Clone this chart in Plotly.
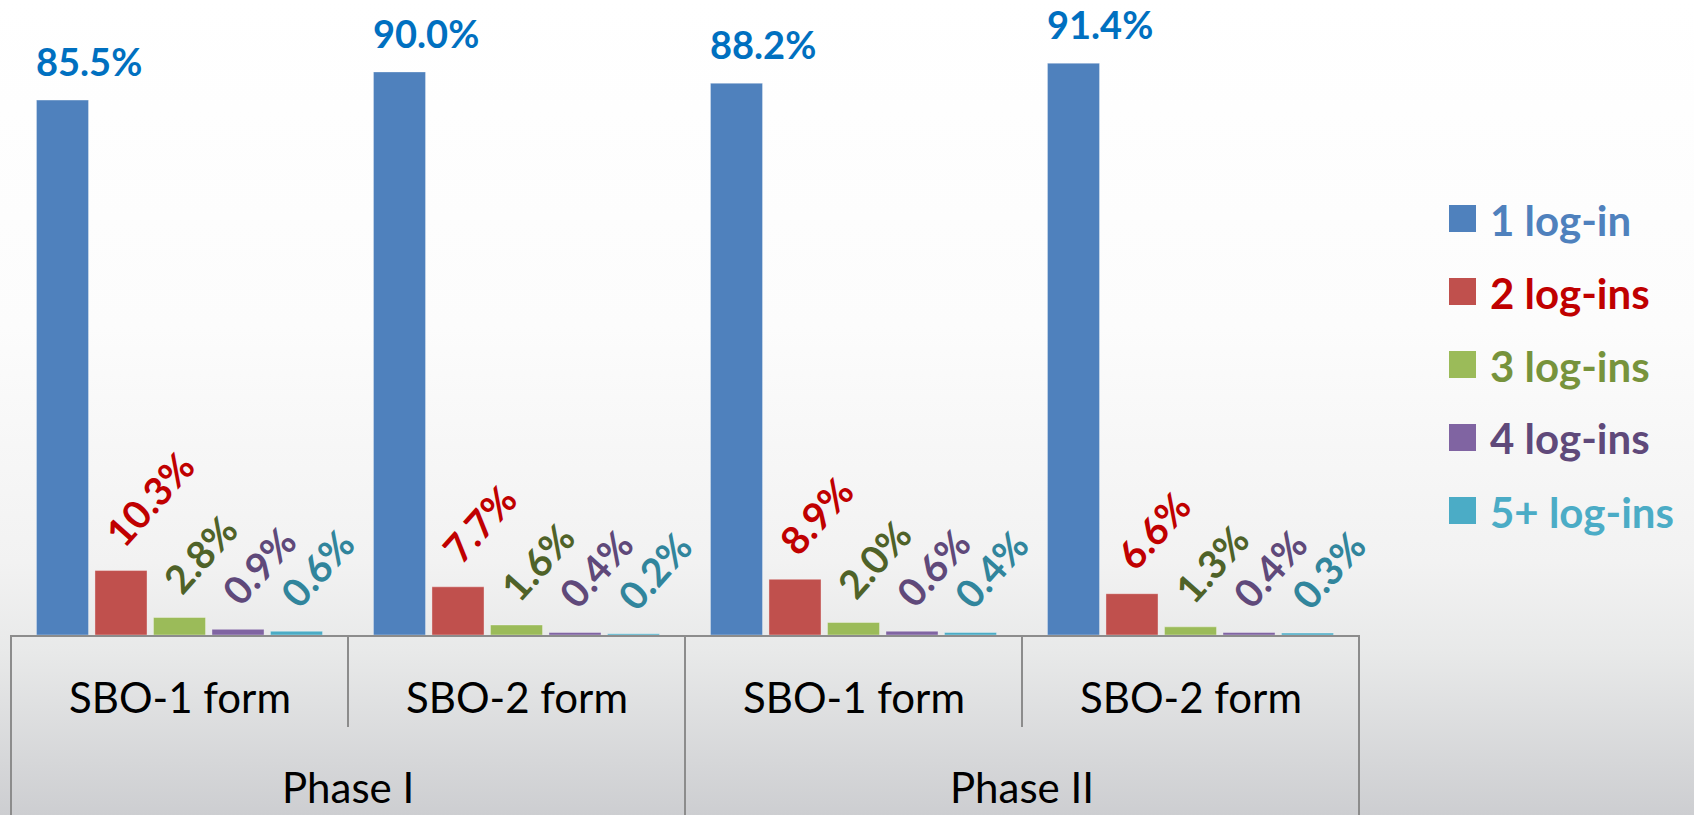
import base64
import plotly.graph_objects as go

# ---------------- data ----------------
phases = ["Phase I", "Phase I", "Phase II", "Phase II"]
forms = ["SBO-1 form", "SBO-2 form", "SBO-1 form", "SBO-2 form"]
phase_names = ["Phase I", "Phase II"]
series_names = ["1 log-in", "2 log-ins", "3 log-ins", "4 log-ins", "5+ log-ins"]
login_1 = [85.5, 90.0, 88.2, 91.4]
login_2 = [10.3, 7.7, 8.9, 6.6]
login_3 = [2.8, 1.6, 2.0, 1.3]
login_4 = [0.9, 0.4, 0.6, 0.4]
login_5 = [0.6, 0.2, 0.4, 0.3]
series_values = [login_1, login_2, login_3, login_4, login_5]

# ---------------- style ----------------
bar_colors = ["#4F81BD", "#C0504D", "#9BBB59", "#8064A2", "#4BACC6"]
label_colors = ["#0070C0", "#C00000", "#4F6228", "#5F497A", "#31859C"]
legend_text_colors = ["#4F81BD", "#C00000", "#77933C", "#5F497A", "#4BACC6"]
FONT = "Lato"
W, H = 1694, 815
L, R, T, B = 11, 335, 0, 180
BARGAP = 0.132
BARGROUPGAP = 0.11
LINE = "#8c8c8c"


def px_x(px):
    return (px - L) / (W - L - R)


def px_y(py):
    return (H - B - py) / (H - T - B)


n_series = len(series_values)
slot = (1 - BARGAP) / n_series


def bar_offset(j):
    return -(1 - BARGAP) / 2 + (j + 0.5) * slot


fig = go.Figure()
for j, (name, vals) in enumerate(zip(series_names, series_values)):
    fig.add_trace(go.Bar(
        x=[phases, forms], y=vals, name=name,
        marker=dict(color=bar_colors[j], line=dict(width=1, color="rgba(255,255,255,0.35)")),
        showlegend=False, hoverinfo="y+name",
    ))

annotations = []
# value labels
for j, vals in enumerate(series_values):
    for i, v in enumerate(vals):
        xc = i + bar_offset(j)
        if j == 0:
            annotations.append(dict(
                x=xc, y=v, xref="x", yref="y", text=f"{v:.1f}%", showarrow=False,
                xanchor="center", yanchor="bottom", xshift=27, yshift=14,
                font=dict(family=FONT, size=38, color=label_colors[j], weight="bold"),
            ))
        else:
            annotations.append(dict(
                x=xc, y=v, xref="x", yref="y", text=f"{v:.1f}%", showarrow=False,
                textangle=-48, xanchor="left", yanchor="bottom", xshift=-28, yshift=13,
                font=dict(family=FONT, size=39, color=label_colors[j], weight="bold"),
            ))

# category labels
for i, f in enumerate(forms):
    annotations.append(dict(
        x=i, y=px_y(697), xref="x", yref="paper", text=f, showarrow=False,
        xanchor="center", yanchor="middle",
        font=dict(family=FONT, size=42, color="#000000"),
    ))
for k, p in enumerate(phase_names):
    annotations.append(dict(
        x=2 * k + 0.5, y=px_y(787), xref="x", yref="paper", text=p, showarrow=False,
        xanchor="center", yanchor="middle",
        font=dict(family=FONT, size=42, color="#000000"),
    ))

shapes = []
# category box lines
bottom = px_y(H)
for xp in [0.0, 0.5, 1.0]:
    shapes.append(dict(type="line", xref="paper", yref="paper", x0=xp, x1=xp, y0=0, y1=bottom,
                       line=dict(color=LINE, width=2)))
for xp in [0.25, 0.75]:
    shapes.append(dict(type="line", xref="paper", yref="paper", x0=xp, x1=xp, y0=0, y1=px_y(727),
                       line=dict(color=LINE, width=2)))

# manual legend
for k, name in enumerate(series_names):
    cy = 218.5 + 73 * k
    shapes.append(dict(type="rect", xref="paper", yref="paper",
                       x0=px_x(1449), x1=px_x(1476), y0=px_y(cy + 13.5), y1=px_y(cy - 13.5),
                       fillcolor=bar_colors[k], line=dict(width=0)))
    annotations.append(dict(
        x=px_x(1488), y=px_y(cy + 1), xref="paper", yref="paper", text=name, showarrow=False,
        xanchor="left", yanchor="middle",
        font=dict(family=FONT, size=42, color=legend_text_colors[k], weight="bold"),
    ))

# background gradient
svg = (
    f'<svg xmlns="http://www.w3.org/2000/svg" width="{W}" height="{H}" preserveAspectRatio="none">'
    '<defs><linearGradient id="g" x1="0" y1="0" x2="0" y2="1">'
    '<stop offset="0" stop-color="#ffffff"/>'
    '<stop offset="0.40" stop-color="#fcfcfc"/>'
    '<stop offset="0.69" stop-color="#f2f2f2"/>'
    '<stop offset="0.80" stop-color="#e8e9e9"/>'
    '<stop offset="1" stop-color="#cdced1"/>'
    '</linearGradient></defs>'
    f'<rect x="0" y="0" width="{W}" height="{H}" fill="url(#g)"/></svg>'
)
bg_src = "data:image/svg+xml;base64," + base64.b64encode(svg.encode()).decode()

fig.update_layout(
    width=W, height=H,
    margin=dict(l=L, r=R, t=T, b=B, pad=0),
    barmode="group", bargap=BARGAP, bargroupgap=BARGROUPGAP,
    paper_bgcolor="#ffffff", plot_bgcolor="rgba(0,0,0,0)",
    showlegend=False,
    font=dict(family=FONT),
    xaxis=dict(type="multicategory", showticklabels=False, showdividers=False, ticks="",
               showgrid=False, zeroline=False, showline=True, linecolor=LINE, linewidth=2,
               range=[-0.5, 3.5]),
    yaxis=dict(range=[0, 101.5], visible=False, showgrid=False, zeroline=False),
    annotations=annotations,
    shapes=shapes,
    images=[dict(source=bg_src, xref="paper", yref="paper", x=px_x(0), y=px_y(0),
                 sizex=W / (W - L - R), sizey=H / (H - T - B), xanchor="left", yanchor="top",
                 sizing="stretch", layer="below")],
)

fig.write_html(
    "out.html",
    config={"displayModeBar": False},
    post_script="document.body.style.margin='0px';document.body.style.overflow='hidden';",
)
